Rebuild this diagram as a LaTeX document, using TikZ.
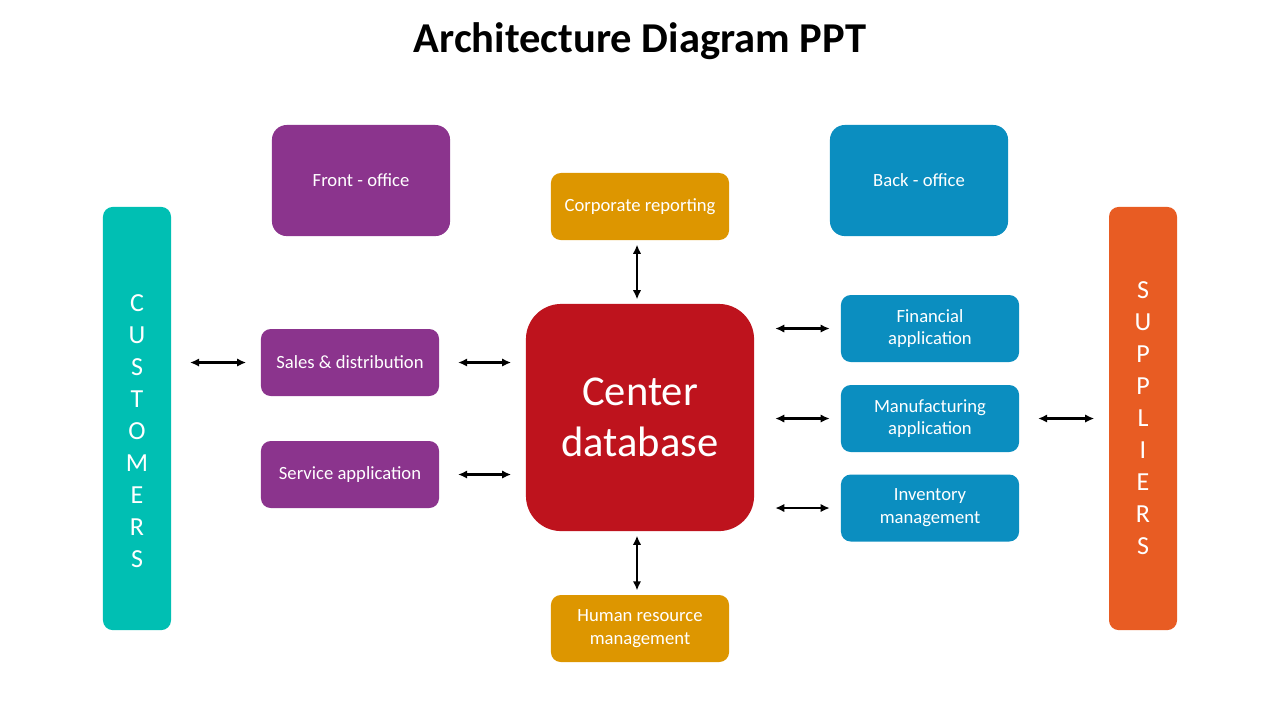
\documentclass[tikz,border=0pt]{standalone}
\usepackage{fontspec}
\setmainfont{Carlito}
\usepackage{tikz}
\usetikzlibrary{arrows.meta,positioning,calc}
\definecolor{adteal}{RGB}{0,191,179}
\definecolor{adorange}{RGB}{232,92,35}
\definecolor{adpurple}{RGB}{139,52,141}
\definecolor{adblue}{RGB}{11,142,192}
\definecolor{adamber}{RGB}{221,150,0}
\definecolor{adred}{RGB}{190,19,29}
\tikzset{
  adbox/.style={
    draw=none, text=white, align=center, inner sep=0pt,
    rounded corners=2.8pt, font=\fontsize{5.3}{6.5}\selectfont,
    minimum width=1.78cm, minimum height=0.67cm
  },
  side/.style={adbox, rounded corners=2.8pt, minimum width=0.68cm, minimum height=4.23cm},
  office/.style={adbox, rounded corners=4.2pt, minimum height=1.11cm},
  app/.style={adbox, fill=adblue},
  sales/.style={adbox, fill=adpurple},
  report/.style={adbox, fill=adamber},
  vtext/.style={text=white, align=center, inner sep=0pt, font=\fontsize{7.4}{9.1}\selectfont},
  arr/.style={{Latex[length=2.6pt,width=2.4pt]}-{Latex[length=2.6pt,width=2.4pt]}, line width=0.65pt, black},
  harr/.style={arr, shorten <=5.2pt, shorten >=4pt},
  rarr/.style={arr, shorten <=5.8pt, shorten >=3pt},
  varr/.style={arr, shorten <=1.1pt, shorten >=1.1pt}
}
\begin{document}
\begin{tikzpicture}[x=0.01cm,y=-0.01cm]
  \useasboundingbox (0,0) rectangle (1280,720);
  \node[font=\bfseries\fontsize{12.1}{14}\selectfont] (title) at (640,41) {Architecture Diagram PPT};

  % side columns
  \node[side, fill=adteal] (cust) at (137,418.5) {};
  \node[vtext] (custtxt) at (137,431) {C\\U\\S\\T\\O\\M\\E\\R\\S};
  \node[side, fill=adorange] (supp) at (1143,418.5) {};
  \node[vtext] (supptxt) at (1143,418) {S\\U\\P\\P\\L\\I\\E\\R\\S};

  % offices
  \node[office, fill=adpurple] (front) at (361,180.5) {Front - office};
  \node[office, fill=adblue] (back) at (919,180.5) {Back - office};

  % centre
  \node[adbox, fill=adred, rounded corners=10pt, minimum width=2.28cm, minimum height=2.27cm,
        font=\fontsize{12.1}{14.6}\selectfont] (db) at (640,417.5) {Center\\database};
  \node[report] (corp) at (640,206.5) {Corporate reporting};
  \node[report] (hr) at (640,628.5) {Human resource\\management};
  \coordinate (up) at ($(corp.south)+(-3,0)$);
  \coordinate (down) at ($(hr.north)+(-3,0)$);

  % left applications
  \node[sales] (sales) at (350,362.5) {Sales \& distribution};
  \node[sales] (serv) at (350,474.5) {Service application};

  % right applications
  \node[app] (fin) at (930,328.5) {Financial\\application};
  \node[app] (manu) at (930,418.5) {Manufacturing\\application};
  \node[app] (inv) at (930,508) {Inventory\\management};

  % connectors
  \draw[harr] (sales.west -| cust.east) -- (sales.west);
  \draw[harr] (sales.east) -- (sales.east -| db.west);
  \draw[harr] (serv.east) -- (serv.east -| db.west);
  \draw[varr] (up) -- (up |- db.north);
  \draw[varr] (down |- db.south) -- (down);
  \foreach \a in {fin,manu,inv}
    \draw[rarr] (\a.west -| db.east) -- (\a.west);
  \draw[harr] (manu.east) -- (manu.east -| supp.west);
\end{tikzpicture}
\end{document}
